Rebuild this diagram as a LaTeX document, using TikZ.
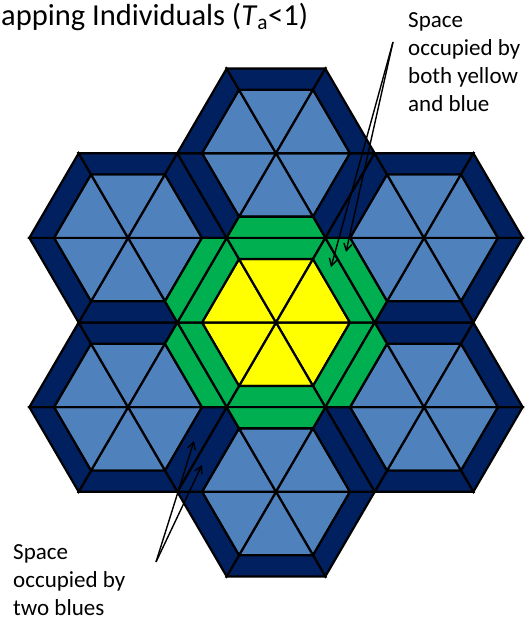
\documentclass[tikz,border=0pt]{standalone}
\usepackage{fontspec}
\setmainfont{Carlito}
\usetikzlibrary{arrows.meta}
\definecolor{lblue}{HTML}{4F81BD}
\definecolor{navy}{HTML}{002060}
\definecolor{grn}{HTML}{00B050}
\definecolor{yel}{HTML}{FFFF00}
\begin{document}
\begin{tikzpicture}[x=1pt,y=-1pt]
\tikzset{
  cell/.style={draw=black,line width=2.2pt,line join=miter},
  lbl/.style={anchor=base west,inner sep=0pt,font=\fontsize{23}{28}\selectfont},
  arr/.style={line width=1.4pt,-{Straight Barb[length=7pt,width=8pt]}}
}
\useasboundingbox (0,0) rectangle (530,622);
\begin{scope}[shift={(276,322.5)},x=74pt,y=-73.3pt]
  % six blue individuals
  \foreach \p in {30,90,...,330}{
    \begin{scope}[shift={(\p:2.3094)}]
      \foreach \a in {0,60,...,300}{
        \draw[cell,fill=lblue] (0,0) -- (\a:1) -- (\a+60:1) -- cycle;
        \draw[cell,fill=navy] (\a:1) -- (\a:1.3333) -- (\a+60:1.3333) -- (\a+60:1) -- cycle;
      }
    \end{scope}
  }
  % central yellow individual
  \foreach \a in {0,60,...,300}{
    \draw[cell,fill=yel] (0,0) -- (\a:1) -- (\a+60:1) -- cycle;
    \draw[cell,fill=grn] (\a:1) -- (\a:1.3333) -- (\a+60:1.3333) -- (\a+60:1) -- cycle;
  }
  % overlap zones
  \foreach \p in {30,90,...,330}{
    \begin{scope}[shift={(\p:2.3094)}]
      \draw[cell,fill=grn] (\p+150:1) -- (\p+150:1.3333) -- (\p+210:1.3333) -- (\p+210:1) -- cycle;
    \end{scope}
  }
\end{scope}
% title
\node[anchor=base west,inner sep=0pt,font=\fontsize{30.5}{36}\selectfont] (title) at (1,25.5)
  {apping Individuals (\textit{T}\textsubscript{a}<1)};
% labels
\node[lbl] (r1) at (408,27.3) {Space};
\node[lbl] (r2) at (408,55.3) {occupied by};
\node[lbl] (r3) at (408,83.3) {both yellow};
\node[lbl] (r4) at (408,111.3) {and blue};
\node[lbl] (l1) at (13,559.5) {Space};
\node[lbl] (l2) at (13,587.5) {occupied by};
\node[lbl] (l3) at (13,615.5) {two blues};
% arrows
\coordinate (s1) at (393,42);
\coordinate (t1) at (331,267);
\coordinate (t2) at (346,252);
\coordinate (s2) at (156,562);
\coordinate (t3) at (194,441);
\coordinate (t4) at (202,465);
\draw[arr] (s1) -- (t1);
\draw[arr] (s1) -- (t2);
\draw[arr] (s2) -- (t3);
\draw[arr] (s2) -- (t4);
\end{tikzpicture}
\end{document}
